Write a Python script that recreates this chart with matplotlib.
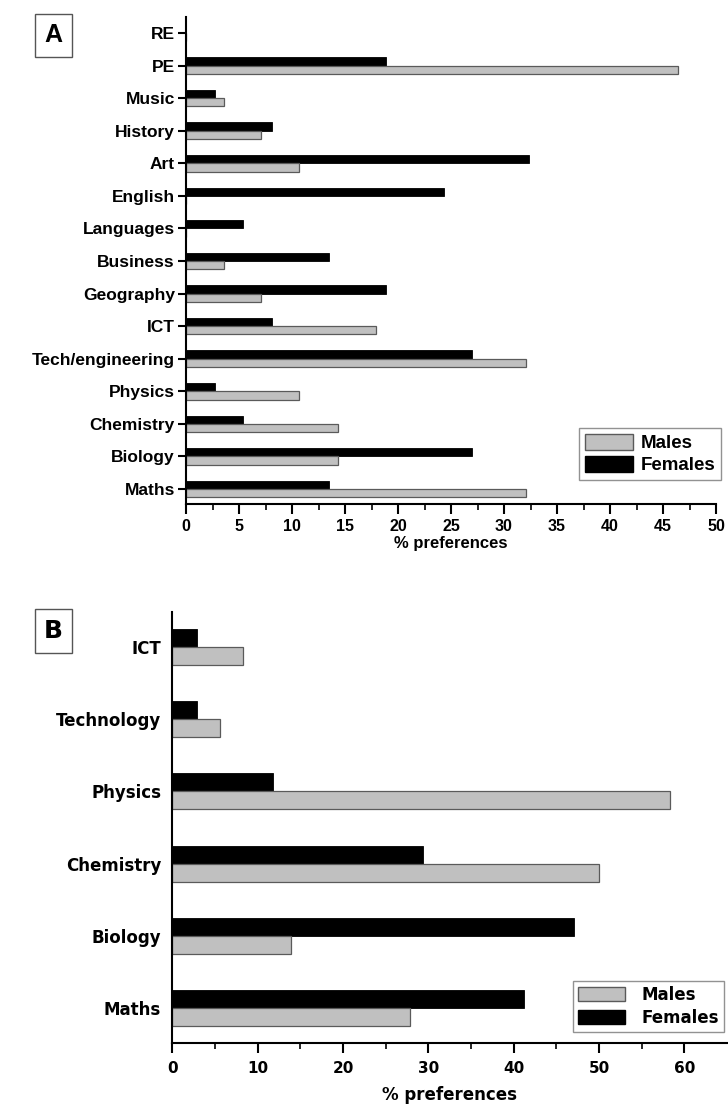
import numpy as np
import matplotlib
matplotlib.use('Agg')
import matplotlib.pyplot as plt
from matplotlib.patches import Patch, Rectangle

# Panel A: preferred subjects (% of respondents)
subjects_a = ['Maths', 'Biology', 'Chemistry', 'Physics', 'Tech/engineering', 'ICT',
              'Geography', 'Business', 'Languages', 'English', 'Art', 'History',
              'Music', 'PE', 'RE']
males_a = [32.1, 14.3, 14.3, 10.7, 32.1, 17.9, 7.1, 3.6, 0.0, 0.0, 10.7, 7.1, 3.6, 46.4, 0.0]
females_a = [13.5, 27.0, 5.4, 2.7, 27.0, 8.1, 18.9, 13.5, 5.4, 24.3, 32.4, 8.1, 2.7, 18.9, 0.0]
xticks_a = [0, 5, 10, 15, 20, 25, 30, 35, 40, 45, 50]

# Panel B: science/technology subjects only
subjects_b = ['Maths', 'Biology', 'Chemistry', 'Physics', 'Technology', 'ICT']
males_b = [27.8, 13.9, 50.0, 58.3, 5.6, 8.3]
females_b = [41.2, 47.1, 29.4, 11.8, 2.9, 2.9]
xticks_b = [0, 10, 20, 30, 40, 50, 60]

GREY = '#c0c0c0'
GREY_EDGE = '#5a5a5a'
W, H = 728, 1104

fontA = ['Liberation Sans', 'DejaVu Sans']
fontB = ['DejaVu Sans']

fig = plt.figure(figsize=(W / 100, H / 100), dpi=100)


def px_axes(x0, y0, x1, y1):
    return fig.add_axes([x0 / W, 1 - y1 / H, (x1 - x0) / W, (y1 - y0) / H])


def style_axes(ax, lw=1.5):
    for side in ('top', 'right'):
        ax.spines[side].set_visible(False)
    for side in ('left', 'bottom'):
        ax.spines[side].set_linewidth(lw)
        ax.spines[side].set_color('black')


def panel_tag(letter, x0, y0, x1, y1, family, size):
    fig.add_artist(Rectangle((x0 / W, 1 - y1 / H), (x1 - x0) / W, (y1 - y0) / H,
                             transform=fig.transFigure, fc='white', ec='#555555', lw=1.0))
    fig.text((x0 + x1) / 2 / W, 1 - (y0 + y1) / 2 / H, letter, ha='center', va='center',
             fontsize=size, fontweight='bold', family=family)


# ---- Panel A ----
axA = px_axes(186, 17, 716, 504)
style_axes(axA)
ya = np.arange(len(subjects_a))
h = 0.255
axA.barh(ya + h / 2, females_a, height=h, color='black', edgecolor='black', linewidth=0.6)
axA.barh(ya - h / 2, males_a, height=h, color=GREY, edgecolor=GREY_EDGE, linewidth=0.9)
axA.set_xlim(0, 50)
axA.set_ylim(-0.46, 14.49)
axA.set_yticks(ya)
axA.set_yticklabels(subjects_a, fontsize=12.5, fontweight='bold', family=fontA)
axA.set_xticks(xticks_a)
axA.set_xticks(np.arange(2.5, 50, 5), minor=True)
axA.set_xticklabels([str(t) for t in xticks_a], fontsize=11.5, fontweight='bold', family=fontA)
axA.tick_params(axis='y', length=6, width=1.5, pad=2)
axA.tick_params(axis='x', which='major', length=7, width=1.5, pad=4)
axA.tick_params(axis='x', which='minor', length=4, width=1.2)
axA.set_xlabel('% preferences', fontsize=12, fontweight='bold', family=fontA, labelpad=1)

handles = [Patch(facecolor=GREY, edgecolor=GREY_EDGE, linewidth=1.0, label='Males'),
           Patch(facecolor='black', edgecolor='black', label='Females')]
legA = axA.legend(handles=handles, loc='upper left', bbox_to_anchor=(579 / W, 1 - 428 / H),
                  bbox_transform=fig.transFigure, frameon=True, fancybox=False,
                  prop={'family': fontA, 'weight': 'bold', 'size': 13.5},
                  handlelength=2.6, handleheight=0.95, handletextpad=0.4,
                  labelspacing=0.2, borderpad=0.3, borderaxespad=0)
legA.get_frame().set_edgecolor('#777777')
legA.get_frame().set_linewidth(1.0)

panel_tag('A', 35, 14, 72, 57, fontA, 18)

# ---- Panel B ----
axB = px_axes(172.3, 612, 727, 1043)
style_axes(axB)
yb = np.arange(len(subjects_b))
hb = 0.25
axB.barh(yb + hb / 2, females_b, height=hb, color='black', edgecolor='black', linewidth=0.6)
axB.barh(yb - hb / 2, males_b, height=hb, color=GREY, edgecolor=GREY_EDGE, linewidth=0.9)
axB.set_xlim(0, 65)
axB.set_ylim(-0.485, 5.485)
axB.set_yticks(yb)
axB.set_yticklabels(subjects_b, fontsize=12, fontweight='bold', family=fontB)
axB.set_xticks(xticks_b)
axB.set_xticks(np.arange(5, 65, 10), minor=True)
axB.set_xticklabels([str(t) for t in xticks_b], fontsize=11, fontweight='bold', family=fontB)
axB.tick_params(axis='y', length=0, pad=8)
axB.tick_params(axis='x', which='major', length=7, width=1.5, pad=6)
axB.tick_params(axis='x', which='minor', length=4, width=1.2)
axB.set_xlabel('% preferences', fontsize=12, fontweight='bold', family=fontB, labelpad=7)

legB = axB.legend(handles=handles, loc='upper left', bbox_to_anchor=(573 / W, 1 - 981 / H),
                  bbox_transform=fig.transFigure, frameon=True, fancybox=False,
                  prop={'family': fontB, 'weight': 'bold', 'size': 12},
                  handlelength=2.8, handleheight=0.95, handletextpad=1.0,
                  labelspacing=0.3, borderpad=0.3, borderaxespad=0)
legB.get_frame().set_edgecolor('#777777')
legB.get_frame().set_linewidth(1.0)

panel_tag('B', 35, 609, 72, 653, fontB, 18)

fig.savefig('out.png', dpi=100, facecolor='white')
